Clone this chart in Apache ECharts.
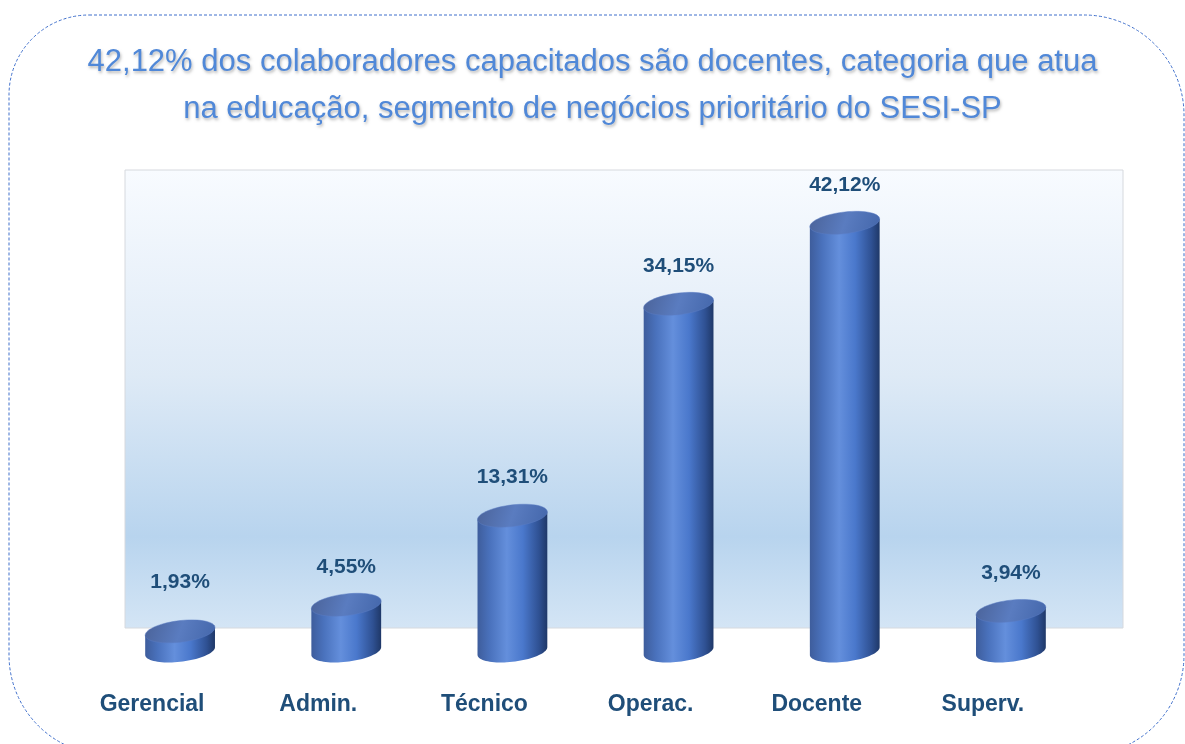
<!DOCTYPE html>
<html>
<head>
<meta charset="utf-8">
<title>Colaboradores capacitados</title>
<script src="https://cdn.jsdelivr.net/npm/echarts@6/dist/echarts.min.js"></script>
<style>
  html, body { margin: 0; padding: 0; background: #fff; }
  #chart { width: 1185px; height: 744px; }
</style>
</head>
<body>
<div id="chart"></div>
<script>
// dados
var categories = ['Gerencial', 'Admin.', 'Técnico', 'Operac.', 'Docente', 'Superv.'];
var shares = [1.93, 4.55, 13.31, 34.15, 42.12, 3.94];
var titleLines = [
  '42,12% dos colaboradores capacitados são docentes, categoria que atua',
  'na educação, segmento de negócios prioritário do SESI-SP'
];

var darkBlue = '#1f4e79';
var chart = echarts.init(document.getElementById('chart'));

function fmt(v) {
  return v.toFixed(2).replace('.', ',') + '%';
}

function renderCylinder(params, api) {
  var idx = api.value(0);
  var val = api.value(1);
  var top = api.coord([idx, val]);
  var base = api.coord([idx, 0]);
  var band = api.size([1, 0])[0];
  var rx = band * 0.21;
  var ry = rx * 0.31;
  var k = 0.11; // inclinação das elipses
  function pt(cy, t) {
    return [top[0] + rx * Math.cos(t), cy + ry * Math.sin(t) - k * rx * Math.cos(t)];
  }
  var body = [];
  var n = 40;
  for (var i = 0; i <= n; i++) body.push(pt(base[1], Math.PI - Math.PI * i / n));
  body.push(pt(top[1], 0));
  body.push(pt(top[1], Math.PI));
  var cap = [];
  for (var j = 0; j < 60; j++) cap.push(pt(top[1], Math.PI * 2 * j / 60));

  var labelY = Math.min(top[1] - 38, 582);
  return {
    type: 'group',
    children: [
      {
        type: 'polygon',
        shape: { points: body },
        style: {
          fill: new echarts.graphic.LinearGradient(0, 0, 1, 0, [
            { offset: 0, color: '#3e5d9c' },
            { offset: 0.18, color: '#4a72bd' },
            { offset: 0.42, color: '#648fdc' },
            { offset: 0.65, color: '#4a78cc' },
            { offset: 0.88, color: '#2f5193' },
            { offset: 1, color: '#1f3868' }
          ])
        }
      },
      {
        type: 'polygon',
        shape: { points: cap },
        style: {
          fill: new echarts.graphic.LinearGradient(0, 0, 1, 1, [
            { offset: 0, color: '#4a6298' },
            { offset: 0.5, color: '#5a7cc0' },
            { offset: 1, color: '#4366aa' }
          ]),
          stroke: 'rgba(90,125,195,0.6)',
          lineWidth: 0.8
        }
      },
      {
        type: 'text',
        style: {
          text: fmt(val),
          x: top[0],
          y: labelY,
          align: 'center',
          verticalAlign: 'middle',
          fill: darkBlue,
          fontSize: 21,
          fontWeight: 'bold',
          fontFamily: 'Liberation Sans'
        }
      }
    ]
  };
}

var option = {
  animation: false,
  title: {
    text: titleLines.join('\n'),
    left: 'center',
    top: 34,
    textStyle: {
      color: '#5088d8',
      fontSize: 31,
      fontWeight: 'normal',
      fontFamily: 'Liberation Sans',
      lineHeight: 47,
      textShadowColor: 'rgba(0,0,0,0.28)',
      textShadowBlur: 3,
      textShadowOffsetX: 1,
      textShadowOffsetY: 2
    }
  },
  graphic: [
    {
      type: 'rect',
      z: 0,
      silent: true,
      shape: { x: 9, y: 15, width: 1175, height: 740, r: [80, 100, 100, 100] },
      style: { fill: 'none', stroke: '#3f6fcb', lineWidth: 1, lineDash: [3, 2] }
    },
    {
      type: 'rect',
      z: 0,
      silent: true,
      shape: { x: 125, y: 170, width: 998, height: 458 },
      style: {
        fill: new echarts.graphic.LinearGradient(0, 0, 0, 1, [
          { offset: 0, color: '#f8fbff' },
          { offset: 0.45, color: '#deeaf6' },
          { offset: 0.8, color: '#b8d4ee' },
          { offset: 1, color: '#d4e5f5' }
        ]),
        stroke: '#d6d9de',
        lineWidth: 1
      }
    }
  ],
  grid: { left: 97, right: 91, top: 163, bottom: 93 },
  xAxis: {
    type: 'category',
    data: categories,
    axisLine: { show: false },
    axisTick: { show: false },
    axisLabel: {
      margin: 42,
      padding: [0, 56, 0, 0],
      color: darkBlue,
      fontSize: 23,
      fontWeight: 'bold',
      fontFamily: 'Liberation Sans'
    }
  },
  yAxis: {
    type: 'value',
    min: 0,
    max: 48,
    show: false,
    splitLine: { show: false }
  },
  series: [
    {
      type: 'custom',
      silent: true,
      renderItem: renderCylinder,
      encode: { x: 0, y: 1 },
      data: shares.map(function (v, i) { return [i, v]; })
    }
  ]
};

chart.setOption(option);
</script>
</body>
</html>
